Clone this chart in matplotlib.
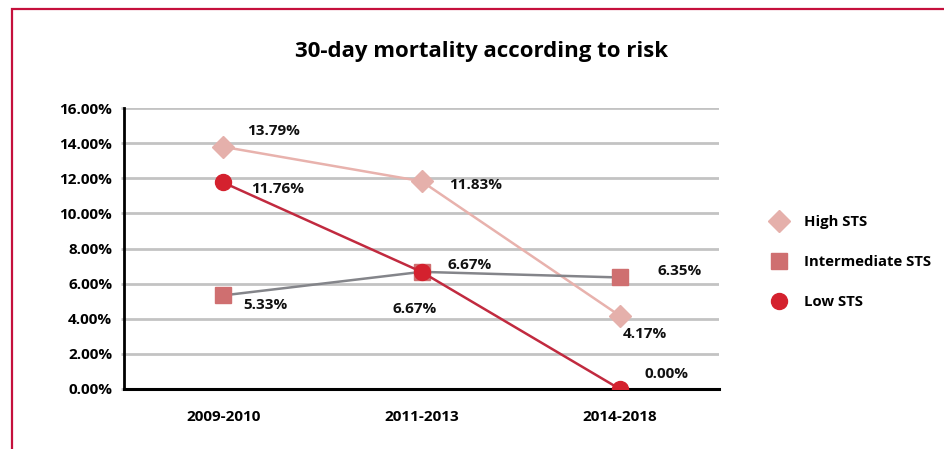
import matplotlib.pyplot as plt
from matplotlib.lines import Line2D
from matplotlib.patches import Rectangle

plt.rcParams['font.family'] = ['Open Sans', 'DejaVu Sans']
plt.rcParams['font.weight'] = 'bold'

# Chart data
periods = ['2009-2010', '2011-2013', '2014-2018']
high_sts = [13.79, 11.83, 4.17]
intermediate_sts = [5.33, 6.67, 6.35]
low_sts = [11.76, 6.67, 0.00]
y_ticks = [0, 2, 4, 6, 8, 10, 12, 14, 16]

# label offsets in pixels (dx, dy) from each point
high_offsets = [(50, 16), (54, -4), (25, -18)]
inter_offsets = [(42, -10), (48, 7), (60, 6)]
low_offsets = [(54, -7), (-7, -37), (47, 15)]

fig = plt.figure(figsize=(9.44, 4.49), dpi=100)
ax = fig.add_axes([124 / 944, 60 / 449, 595 / 944, 281 / 449])

x = list(range(len(periods)))

ax.plot(x, high_sts, color='#e8b2ad', lw=1.8, marker='D', markersize=11,
        markerfacecolor='#e5b0ab', markeredgecolor='#e5b0ab', zorder=3)
ax.plot(x, intermediate_sts, color='#84858a', lw=1.8, marker='s', markersize=11,
        markerfacecolor='#cf6f70', markeredgecolor='#cf6f70', zorder=3)
ax.plot(x, low_sts, color='#c12a3f', lw=1.8, marker='o', markersize=11.5,
        markerfacecolor='#d4212e', markeredgecolor='#d4212e', zorder=4)

for series, offsets in [(high_sts, high_offsets), (intermediate_sts, inter_offsets),
                        (low_sts, low_offsets)]:
    for xi, v, (dx, dy) in zip(x, series, offsets):
        ax.annotate(f'{v:.2f}%', (xi, v), xytext=(dx, dy), textcoords='offset pixels',
                    ha='center', va='center', fontsize=11, fontweight='bold', color='#111111')

ax.set_xlim(-0.5, 2.5)
ax.set_ylim(0, 16)
ax.set_yticks(y_ticks)
ax.set_yticklabels([f'{t:.2f}%' for t in y_ticks])
ax.set_xticks(x)
ax.set_xticklabels(periods)
ax.grid(axis='y', color='#c3c3c3', lw=2)
ax.set_axisbelow(True)
ax.tick_params(axis='y', length=2.5, color='#c3c3c3', width=2, pad=6, labelsize=11)
ax.tick_params(axis='x', length=0, pad=15, labelsize=11)
for s in ['top', 'right']:
    ax.spines[s].set_visible(False)
ax.spines['left'].set_linewidth(2)
ax.spines['bottom'].set_linewidth(2.2)

fig.text(482 / 944, 1 - 52 / 449, '30-day mortality according to risk',
         ha='center', va='center', fontsize=16, fontweight='bold')

handles = [
    Line2D([], [], ls='none', marker='D', markersize=11, color='#e5b0ab'),
    Line2D([], [], ls='none', marker='s', markersize=11, color='#cf6f70'),
    Line2D([], [], ls='none', marker='o', markersize=11.5, color='#d4212e'),
]
fig.legend(handles, ['High STS', 'Intermediate STS', 'Low STS'], loc='center left',
           bbox_to_anchor=(758 / 944, 1 - 262 / 449), frameon=False, numpoints=1,
           handlelength=1, handletextpad=1.2, labelspacing=1.75,
           prop={'weight': 'bold', 'size': 10.7})

# outer frame
fig.patches.append(Rectangle((12 / 944, -0.1), 1.2, 1 - 9 / 449 + 0.1,
                             transform=fig.transFigure, fill=False,
                             edgecolor='#c5103c', lw=1.6))

plt.savefig('out.png', dpi=100)
